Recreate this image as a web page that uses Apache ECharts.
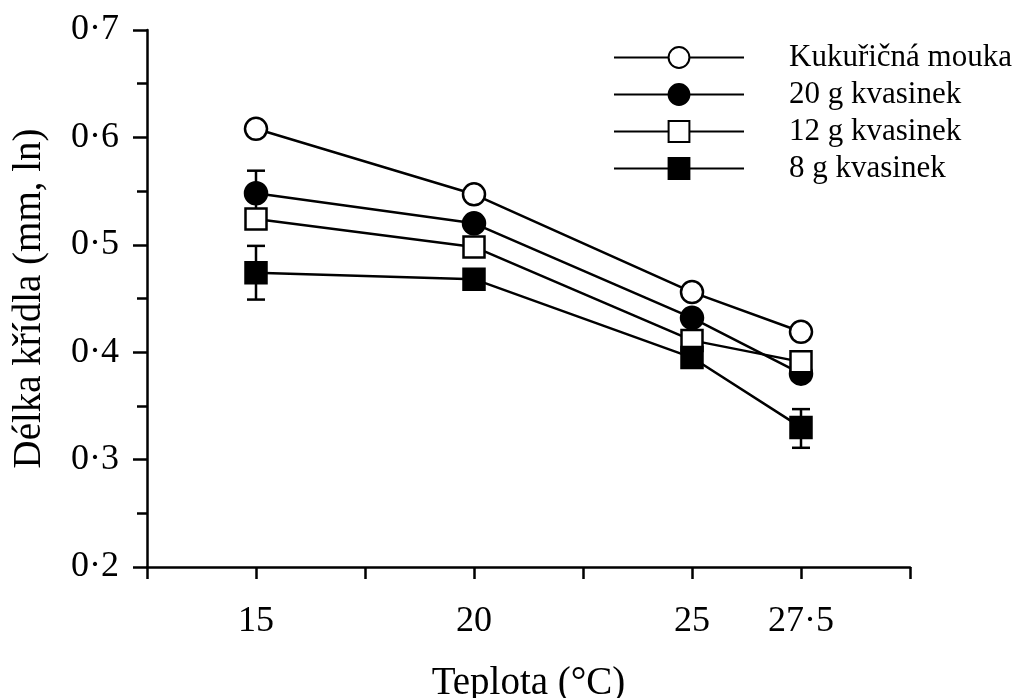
<!DOCTYPE html>
<html>
<head>
<meta charset="utf-8">
<script src="https://cdn.jsdelivr.net/npm/echarts@6/dist/echarts.min.js"></script>
<style>
  html, body { margin: 0; padding: 0; background: #fff; }
  #chart { width: 1018px; height: 698px; }
</style>
</head>
<body>
<div id="chart"></div>
<script>
// teploty (°C)
const temps = [15, 20, 25, 27.5]
const xTickLabels = ['15', '20', '25', '27·5']

// délka křídla (mm, ln)
const kukuricna = [0.608, 0.547, 0.456, 0.419]
const kvas20 = [0.548, 0.520, 0.432, 0.380]
const kvas12 = [0.524, 0.498, 0.411, 0.391]
const kvas8 = [0.474, 0.468, 0.395, 0.330]

// chybové úsečky: [teplota, dolní, horní]
const errorBars = [
  [15, 0.527, 0.569],
  [15, 0.449, 0.499],
  [27.5, 0.311, 0.347]
]

const serif = 'Liberation Serif'
const ink = '#000'

const pairs = vals => temps.map((t, i) => [t, vals[i]])

function lineSeries(name, vals, symbol, filled) {
  return {
    name: name,
    type: 'line',
    data: pairs(vals),
    symbol: symbol,
    symbolSize: symbol === 'rect' ? 21 : 22,
    showAllSymbol: true,
    lineStyle: { color: '#000', width: 2.5 },
    itemStyle: {
      color: filled ? '#000' : '#fff',
      borderColor: '#000',
      borderWidth: 2.5,
      opacity: 1
    },
    emphasis: { disabled: true },
    z: 3
  }
}

const myChart = echarts.init(document.getElementById('chart'))
const option = {
  backgroundColor: '#fff',
  animation: false,
  grid: { left: 147, right: 108, top: 30, bottom: 131, outerBoundsMode: 'none', containLabel: false },
  legend: {
    orient: 'vertical',
    left: 608,
    top: 36,
    itemWidth: 130,
    itemHeight: 26,
    itemGap: 4,
    data: ['Kukuřičná mouka', '20 g kvasinek', '12 g kvasinek', '8 g kvasinek'],
    textStyle: {
      fontFamily: serif,
      fontSize: 31,
      color: ink,
      lineHeight: 33,
      padding: [0, 0, 0, 40]
    }
  },
  xAxis: {
    type: 'value',
    min: 12.5,
    max: 30,
    interval: 2.5,
    name: 'Teplota (°C)',
    nameLocation: 'middle',
    nameGap: 97,
    nameTextStyle: { fontFamily: serif, fontSize: 39, color: ink },
    axisLine: { onZero: false, lineStyle: { color: '#000', width: 2.5 } },
    axisTick: { length: 12, lineStyle: { color: '#000', width: 2.5 } },
    axisLabel: {
      margin: 37,
      fontFamily: serif,
      fontSize: 36,
      color: ink,
      formatter: function (v) {
        const i = temps.indexOf(v)
        return i >= 0 ? xTickLabels[i] : ''
      }
    },
    splitLine: { show: false }
  },
  yAxis: {
    type: 'value',
    min: 0.2,
    max: 0.7,
    interval: 0.1,
    name: 'Délka křídla (mm, ln)',
    nameLocation: 'middle',
    nameGap: 98,
    nameTextStyle: { fontFamily: serif, fontSize: 39, color: '#000' },
    axisLine: { show: true, lineStyle: { color: '#000', width: 2.5 } },
    axisTick: { show: true, length: 14, lineStyle: { color: '#000', width: 2.5 } },
    minorTick: { show: true, splitNumber: 2, length: 10, lineStyle: { color: '#000', width: 2.5 } },
    axisLabel: {
      margin: 28,
      fontFamily: serif,
      fontSize: 36,
      color: ink,
      formatter: function (v) {
        return v.toFixed(1).replace('.', '·')
      }
    },
    splitLine: { show: false }
  },
  series: [
    {
      type: 'custom',
      data: errorBars,
      z: 2,
      silent: true,
      renderItem: function (params, api) {
        const top = api.coord([api.value(0), api.value(2)])
        const bot = api.coord([api.value(0), api.value(1)])
        const w = 9
        const st = { stroke: '#000', lineWidth: 2.5 }
        return {
          type: 'group',
          children: [
            { type: 'line', shape: { x1: top[0], y1: top[1], x2: bot[0], y2: bot[1] }, style: st },
            { type: 'line', shape: { x1: top[0] - w, y1: top[1], x2: top[0] + w, y2: top[1] }, style: st },
            { type: 'line', shape: { x1: bot[0] - w, y1: bot[1], x2: bot[0] + w, y2: bot[1] }, style: st }
          ]
        }
      }
    },
    lineSeries('Kukuřičná mouka', kukuricna, 'circle', false),
    lineSeries('20 g kvasinek', kvas20, 'circle', true),
    lineSeries('12 g kvasinek', kvas12, 'rect', false),
    lineSeries('8 g kvasinek', kvas8, 'rect', true)
  ]
}
myChart.setOption(option)
window.addEventListener('resize', function () {
  myChart.resize()
})
</script>
</body>
</html>
